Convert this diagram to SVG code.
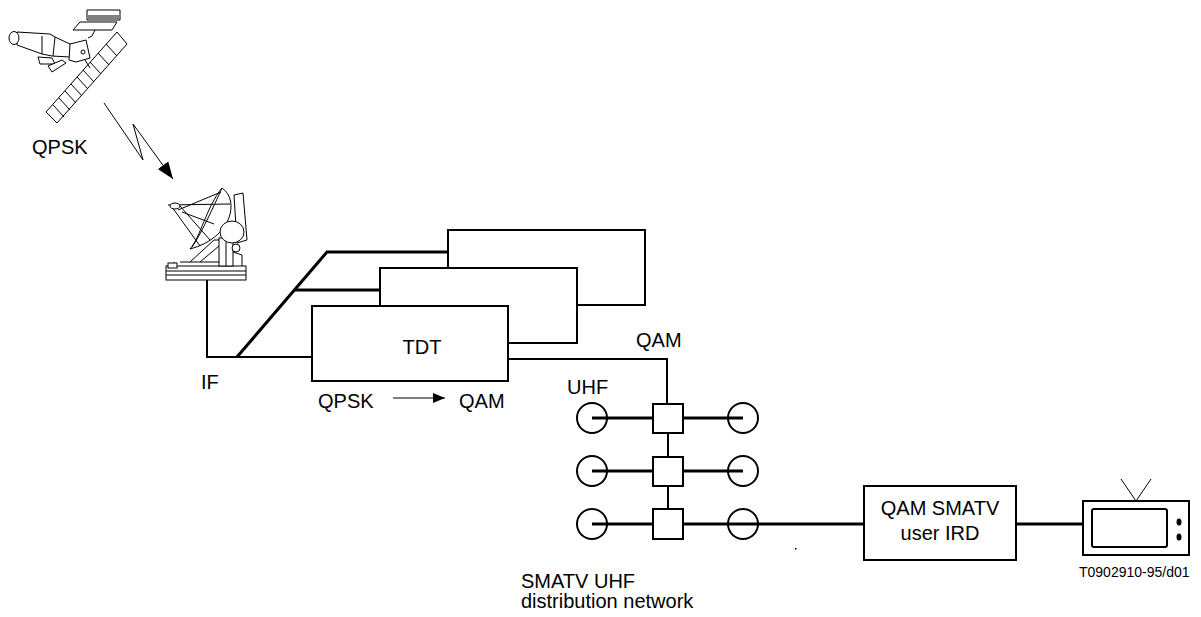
<svg xmlns="http://www.w3.org/2000/svg" width="1201" height="617" viewBox="0 0 1201 617">
<style>
text{font-family:"Liberation Sans",Arial,sans-serif;font-size:20px;fill:#000}
.box{fill:#fff;stroke:#000;stroke-width:2}
.thin{fill:none;stroke:#000;stroke-width:2}
.bold{fill:none;stroke:#000;stroke-width:3}
.art{fill:#fff;stroke:#000;stroke-width:1}
.artn{fill:none;stroke:#000;stroke-width:1}
</style>
<defs>
<marker id="ah" markerWidth="12" markerHeight="10" refX="12" refY="5" orient="auto" markerUnits="userSpaceOnUse">
<path d="M0,0 L12,5 L0,10 Z" fill="#000"/>
</marker>
<marker id="ahbig" markerWidth="17" markerHeight="13" refX="17" refY="6.5" orient="auto" markerUnits="userSpaceOnUse">
<path d="M0,0 L17,6.5 L0,13 Z" fill="#000"/>
</marker>
</defs>
<rect width="1201" height="617" fill="#fff"/>

<g id="satellite">
<path class="art" d="M117,32 L127,44 L57,123 L46,112 Z"/>
<path class="artn" d="M106,44 L117,56 M98,53 L109,65 M90,62 L101,74 M83,70 L94,82 M77,77 L88,89 M71,84 L82,96 M65,91 L76,103 M59,98 L70,110 M53,105 L64,117"/>
<path class="art" d="M87,10 L120,10 L120,20 L87,20 Z"/>
<path class="artn" d="M88,16 L119,16 M88,18 L119,18"/>
<path class="art" d="M80,22 L117,22 L112,30 L73,30 Z"/>
<path class="artn" d="M95,30 L92,36 L88,38"/>
<path class="art" d="M38,57 L52,58 L55,64 L40,64 Z"/>
<path class="art" d="M48,66 L62,60 L66,63 L52,72 Z"/>
<path class="art" d="M17,32 L50,34 L55,37 L72,45 L70,57 L52,56 L42,54 L17,45 Z"/>
<ellipse class="art" cx="14" cy="38" rx="5" ry="6.5"/>
<path class="artn" d="M42,36 L42,54 M55,37 L53,56"/>
<path class="art" d="M70,44 L86,40 L90,58 L76,62 L69,60 Z"/>
<circle class="artn" cx="83" cy="52" r="2"/>
<path class="artn" d="M85,60 L90,68"/>
</g>

<g id="link">
<path d="M104,103 L143,160 L133,124 L173,179" class="artn" stroke-width="1.2" marker-end="url(#ahbig)"/>
</g>
<text x="32" y="154">QPSK</text>

<g id="antenna">
<rect class="art" x="166" y="266" width="80" height="14"/>
<path class="artn" d="M166,271 L246,271 M166,275 L246,275 M180,262 L232,262 L232,266 M174,262 L174,266"/>
<rect class="art" x="168" y="263" width="9" height="5"/>
<rect class="art" x="219" y="238" width="14" height="28"/>
<path class="artn" d="M226,238 L226,266 M233,252 L242,255 L242,266"/>
<circle class="art" cx="236" cy="248" r="4"/>
<path class="artn" d="M190,262 L214,240 L219,240 M200,262 L219,246"/>
<path class="art" d="M243,193 L247,240 L237,243 L234,195 Z"/>
<path class="art" d="M222,188 C240,200 232,238 190,249 C200,238 207,206 222,188 Z"/>
<path class="artn" d="M222,188 C214,206 200,236 192,247"/>
<path class="artn" d="M168,205 L230,204 M172,207 L200,246 M180,206 L210,240 M178,210 L221,192 M182,212 L214,224"/>
<ellipse class="art" cx="175" cy="206" rx="5" ry="3"/>
<ellipse class="art" cx="232" cy="232" rx="12" ry="11"/>
</g>

<g id="connectors">
<path class="thin" d="M207,280 L207,357 L312,357"/>
<path class="bold" d="M237,357 L327,252 L448,252"/>
<path class="bold" d="M295,290 L380,290"/>
<path class="thin" d="M508,359 L667,359 L667,404"/>
<path class="thin" d="M668,433 L668,457 M668,486 L668,509"/>
<path class="bold" d="M592,418 L653,418 M683,418 L743,418"/>
<path class="bold" d="M592,471 L653,471 M683,471 L743,471"/>
<path class="bold" d="M592,524 L653,524 M683,524 L864,524"/>
<path class="bold" d="M1016,524 L1083,524"/>
<path d="M393,398 L445,398" stroke="#555" stroke-width="1.6" marker-end="url(#ah)"/>
</g>

<g id="tdt-back"><rect class="box" x="448" y="230" width="197" height="75"/></g>
<g id="tdt-middle"><rect class="box" x="380" y="268" width="197" height="75"/></g>
<g id="tdt-front">
<rect class="box" x="312" y="306" width="196" height="75"/>
<text x="422" y="354" text-anchor="middle">TDT</text>
</g>

<text x="201" y="389">IF</text>
<text x="318" y="408">QPSK</text>
<text x="459" y="408">QAM</text>
<text x="636" y="347">QAM</text>
<text x="567" y="394">UHF</text>

<g id="uhf-network">
<circle class="thin" cx="592" cy="418" r="15"/>
<circle class="thin" cx="743" cy="418" r="15"/>
<rect class="box" x="653" y="404" width="30" height="29"/>
<circle class="thin" cx="592" cy="471" r="15"/>
<circle class="thin" cx="743" cy="471" r="15"/>
<rect class="box" x="653" y="457" width="30" height="29"/>
<circle class="thin" cx="592" cy="524" r="15"/>
<circle class="thin" cx="743" cy="524" r="15"/>
<rect class="box" x="653" y="509" width="30" height="30"/>
</g>
<text x="521" y="588">SMATV UHF</text>
<text x="521" y="608">distribution network</text>
<rect x="795" y="548" width="1.5" height="1.5" fill="#000"/>

<g id="ird">
<rect class="box" x="864" y="486" width="152" height="74"/>
<text x="940" y="515" text-anchor="middle">QAM SMATV</text>
<text x="940" y="540" text-anchor="middle">user IRD</text>
</g>

<g id="tv">
<path class="artn" d="M1121,479 L1136,501 L1151,479"/>
<rect class="box" x="1083" y="501" width="106" height="54"/>
<rect class="box" x="1092" y="509" width="75" height="38" rx="2"/>
<ellipse cx="1179" cy="522" rx="2.5" ry="3.5" fill="#000"/>
<ellipse cx="1179" cy="537" rx="2.5" ry="3.5" fill="#000"/>
</g>
<text x="1079" y="577" style="font-size:14px">T0902910-95/d01</text>
</svg>
